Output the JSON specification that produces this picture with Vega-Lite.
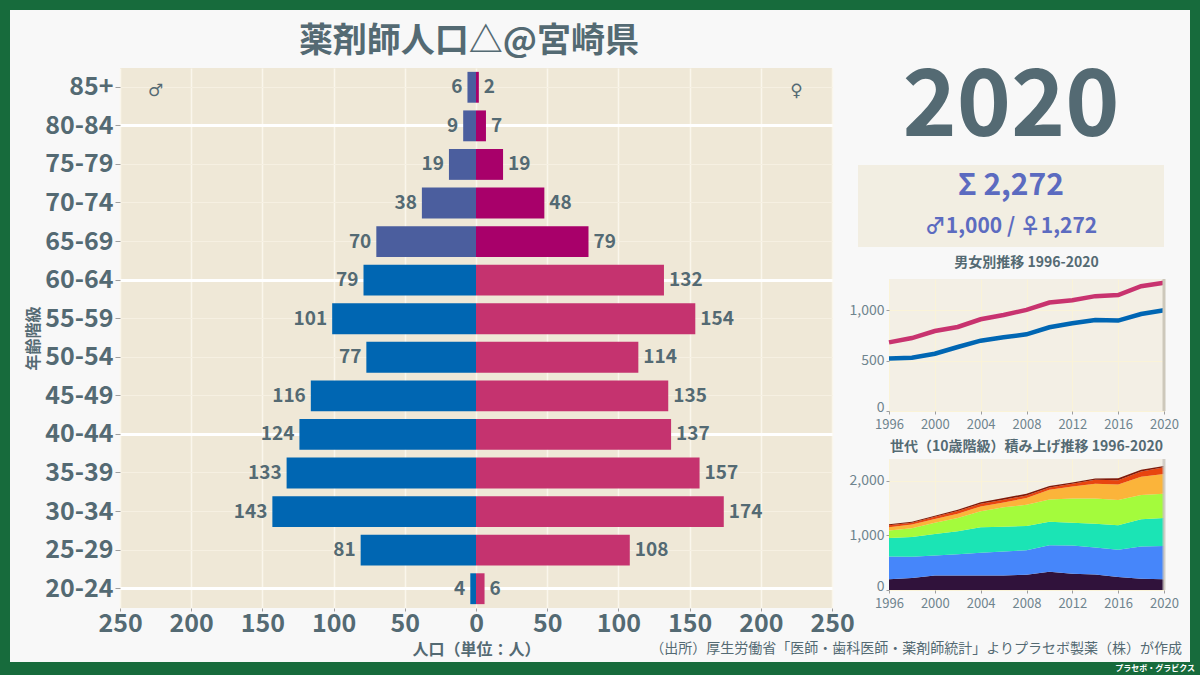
{
  "$schema": "https://vega.github.io/schema/vega-lite/v6.json",
  "padding": 0,
  "background": "#f8f8f8",
  "autosize": {"type": "pad"},
  "bounds": "flush",
  "spacing": 0,
  "resolve": {"scale": {"color": "independent"}},
  "config": {
    "font": "Noto Sans CJK JP",
    "view": {"stroke": null},
    "axis": {"labelFont": "Noto Sans CJK JP", "titleFont": "Noto Sans CJK JP", "labelFlush": false, "labelOverlap": false},
    "title": {"font": "Noto Sans CJK JP"},
    "text": {"font": "Noto Sans CJK JP"}
  },
  "datasets": {
    "empty": [],
    "pyramid": [
      {"age": "85+", "m": 6, "f": 2},
      {"age": "80-84", "m": 9, "f": 7},
      {"age": "75-79", "m": 19, "f": 19},
      {"age": "70-74", "m": 38, "f": 48},
      {"age": "65-69", "m": 70, "f": 79},
      {"age": "60-64", "m": 79, "f": 132},
      {"age": "55-59", "m": 101, "f": 154},
      {"age": "50-54", "m": 77, "f": 114},
      {"age": "45-49", "m": 116, "f": 135},
      {"age": "40-44", "m": 124, "f": 137},
      {"age": "35-39", "m": 133, "f": 157},
      {"age": "30-34", "m": 143, "f": 174},
      {"age": "25-29", "m": 81, "f": 108},
      {"age": "20-24", "m": 4, "f": 6}
    ],
    "trend": [
      {"year": 1996, "sex": "男", "n": 522}, {"year": 1996, "sex": "女", "n": 681},
      {"year": 1998, "sex": "男", "n": 528}, {"year": 1998, "sex": "女", "n": 724},
      {"year": 2000, "sex": "男", "n": 568}, {"year": 2000, "sex": "女", "n": 794},
      {"year": 2002, "sex": "男", "n": 635}, {"year": 2002, "sex": "女", "n": 834},
      {"year": 2004, "sex": "男", "n": 698}, {"year": 2004, "sex": "女", "n": 910},
      {"year": 2006, "sex": "男", "n": 731}, {"year": 2006, "sex": "女", "n": 953},
      {"year": 2008, "sex": "男", "n": 761}, {"year": 2008, "sex": "女", "n": 1003},
      {"year": 2010, "sex": "男", "n": 831}, {"year": 2010, "sex": "女", "n": 1076},
      {"year": 2012, "sex": "男", "n": 870}, {"year": 2012, "sex": "女", "n": 1100},
      {"year": 2014, "sex": "男", "n": 904}, {"year": 2014, "sex": "女", "n": 1140},
      {"year": 2016, "sex": "男", "n": 897}, {"year": 2016, "sex": "女", "n": 1150},
      {"year": 2018, "sex": "男", "n": 963}, {"year": 2018, "sex": "女", "n": 1239},
      {"year": 2020, "sex": "男", "n": 1000}, {"year": 2020, "sex": "女", "n": 1272}
    ],
    "gens": [
      {"year": 1996, "gen": "20代", "n": 195}, {"year": 1996, "gen": "30代", "n": 419}, {"year": 1996, "gen": "40代", "n": 340}, {"year": 1996, "gen": "50代", "n": 134}, {"year": 1996, "gen": "60代", "n": 61}, {"year": 1996, "gen": "70代", "n": 36}, {"year": 1996, "gen": "80代以上", "n": 18},
      {"year": 1998, "gen": "20代", "n": 219}, {"year": 1998, "gen": "30代", "n": 389}, {"year": 1998, "gen": "40代", "n": 365}, {"year": 1998, "gen": "50代", "n": 158}, {"year": 1998, "gen": "60代", "n": 67}, {"year": 1998, "gen": "70代", "n": 36}, {"year": 1998, "gen": "80代以上", "n": 18},
      {"year": 2000, "gen": "20代", "n": 267}, {"year": 2000, "gen": "30代", "n": 365}, {"year": 2000, "gen": "40代", "n": 395}, {"year": 2000, "gen": "50代", "n": 207}, {"year": 2000, "gen": "60代", "n": 67}, {"year": 2000, "gen": "70代", "n": 42}, {"year": 2000, "gen": "80代以上", "n": 19},
      {"year": 2002, "gen": "20代", "n": 267}, {"year": 2002, "gen": "30代", "n": 390}, {"year": 2002, "gen": "40代", "n": 419}, {"year": 2002, "gen": "50代", "n": 243}, {"year": 2002, "gen": "60代", "n": 80}, {"year": 2002, "gen": "70代", "n": 48}, {"year": 2002, "gen": "80代以上", "n": 22},
      {"year": 2004, "gen": "20代", "n": 267}, {"year": 2004, "gen": "30代", "n": 414}, {"year": 2004, "gen": "40代", "n": 468}, {"year": 2004, "gen": "50代", "n": 292}, {"year": 2004, "gen": "60代", "n": 91}, {"year": 2004, "gen": "70代", "n": 48}, {"year": 2004, "gen": "80代以上", "n": 28},
      {"year": 2006, "gen": "20代", "n": 267}, {"year": 2006, "gen": "30代", "n": 438}, {"year": 2006, "gen": "40代", "n": 456}, {"year": 2006, "gen": "50代", "n": 353}, {"year": 2006, "gen": "60代", "n": 91}, {"year": 2006, "gen": "70代", "n": 48}, {"year": 2006, "gen": "80代以上", "n": 31},
      {"year": 2008, "gen": "20代", "n": 280}, {"year": 2008, "gen": "30代", "n": 449}, {"year": 2008, "gen": "40代", "n": 444}, {"year": 2008, "gen": "50代", "n": 389}, {"year": 2008, "gen": "60代", "n": 122}, {"year": 2008, "gen": "70代", "n": 49}, {"year": 2008, "gen": "80代以上", "n": 31},
      {"year": 2010, "gen": "20代", "n": 334}, {"year": 2010, "gen": "30代", "n": 487}, {"year": 2010, "gen": "40代", "n": 431}, {"year": 2010, "gen": "50代", "n": 408}, {"year": 2010, "gen": "60代", "n": 176}, {"year": 2010, "gen": "70代", "n": 42}, {"year": 2010, "gen": "80代以上", "n": 29},
      {"year": 2012, "gen": "20代", "n": 298}, {"year": 2012, "gen": "30代", "n": 517}, {"year": 2012, "gen": "40代", "n": 419}, {"year": 2012, "gen": "50代", "n": 444}, {"year": 2012, "gen": "60代", "n": 219}, {"year": 2012, "gen": "70代", "n": 48}, {"year": 2012, "gen": "80代以上", "n": 25},
      {"year": 2014, "gen": "20代", "n": 286}, {"year": 2014, "gen": "30代", "n": 492}, {"year": 2014, "gen": "40代", "n": 438}, {"year": 2014, "gen": "50代", "n": 462}, {"year": 2014, "gen": "60代", "n": 267}, {"year": 2014, "gen": "70代", "n": 73}, {"year": 2014, "gen": "80代以上", "n": 26},
      {"year": 2016, "gen": "20代", "n": 237}, {"year": 2016, "gen": "30代", "n": 499}, {"year": 2016, "gen": "40代", "n": 449}, {"year": 2016, "gen": "50代", "n": 462}, {"year": 2016, "gen": "60代", "n": 286}, {"year": 2016, "gen": "70代", "n": 79}, {"year": 2016, "gen": "80代以上", "n": 35},
      {"year": 2018, "gen": "20代", "n": 207}, {"year": 2018, "gen": "30代", "n": 589}, {"year": 2018, "gen": "40代", "n": 499}, {"year": 2018, "gen": "50代", "n": 444}, {"year": 2018, "gen": "60代", "n": 334}, {"year": 2018, "gen": "70代", "n": 97}, {"year": 2018, "gen": "80代以上", "n": 32},
      {"year": 2020, "gen": "20代", "n": 199}, {"year": 2020, "gen": "30代", "n": 607}, {"year": 2020, "gen": "40代", "n": 512}, {"year": 2020, "gen": "50代", "n": 446}, {"year": 2020, "gen": "60代", "n": 360}, {"year": 2020, "gen": "70代", "n": 124}, {"year": 2020, "gen": "80代以上", "n": 24}
    ]
  },
  "vconcat": [
    {"width": 1200, "height": 10, "view": {"fill": "#176b3c"}, "data": {"name": "empty"}, "mark": "text", "encoding": {}},
    {
      "bounds": "flush",
      "spacing": 0,
      "resolve": {"scale": {"color": "independent"}},
      "hconcat": [
        {"width": 10, "height": 652, "view": {"fill": "#176b3c"}, "data": {"name": "empty"}, "mark": "text", "encoding": {}},
        {"width": 110, "height": 652, "data": {"name": "empty"}, "mark": "text", "encoding": {}},
        {
          "bounds": "flush",
          "spacing": 0,
          "vconcat": [
            {"width": 712, "height": 58, "data": {"name": "empty"}, "mark": "text", "encoding": {}},
            {
              "width": 712,
              "height": 540,
              "view": {"fill": "#efe8d7"},
              "title": {"text": "薬剤師人口△@宮崎県", "fontSize": 34, "fontWeight": "bold", "color": "#546a73", "anchor": "middle", "offset": 9, "dx": -7},
              "data": {"name": "pyramid"},
              "resolve": {"scale": {"x": "independent"}},
              "layer": [
                {
                  "layer": [
                    {
                      "mark": {"type": "bar"},
                      "encoding": {
                        "y": {"field": "age", "type": "ordinal", "sort": ["85+", "80-84", "75-79", "70-74", "65-69", "60-64", "55-59", "50-54", "45-49", "40-44", "35-39", "30-34", "25-29", "20-24"], "scale": {"paddingInner": 0.2, "paddingOuter": 0.1},
                          "axis": {"title": "年齢階級", "titleFontSize": 16, "titleFontWeight": "bold", "titleColor": "#546a73", "titlePadding": 3, "labelFontSize": 25, "labelFontWeight": "bold", "labelColor": "#546a73", "labelPadding": 2, "tickSize": 5, "tickColor": "#9e9e9e", "domain": false, "grid": true,
                            "gridColor": {"condition": {"test": "indexof(['80-84','60-64','40-44','20-24'], datum.value) >= 0", "value": "#ffffff"}, "value": "#f6f0e2"},
                            "gridWidth": {"condition": {"test": "indexof(['80-84','60-64','40-44','20-24'], datum.value) >= 0", "value": 3}, "value": 1}}},
                        "x": {"field": "m", "type": "quantitative", "scale": {"domain": [-250, 250], "reverse": true, "nice": false}, "axis": null},
                        "x2": {"datum": 0},
                        "color": {"condition": {"test": "indexof(['65-69','70-74','75-79','80-84','85+'], datum.age) >= 0", "value": "#4b5e9e"}, "value": "#0066b2"}
                      }
                    },
                    {
                      "mark": {"type": "text", "align": "right", "dx": -5, "fontSize": 19, "fontWeight": "bold", "color": "#546a73"},
                      "encoding": {
                        "y": {"field": "age", "type": "ordinal", "sort": ["85+", "80-84", "75-79", "70-74", "65-69", "60-64", "55-59", "50-54", "45-49", "40-44", "35-39", "30-34", "25-29", "20-24"]},
                        "x": {"field": "m", "type": "quantitative"},
                        "text": {"field": "m", "type": "quantitative"}
                      }
                    },
                    {
                      "data": {"values": [{"s": "♂"}]},
                      "mark": {"type": "text", "fontSize": 17, "font": "DejaVu Sans", "color": "#546a73", "dy": 4},
                      "encoding": {
                        "x": {"datum": 225, "type": "quantitative"},
                        "y": {"datum": "85+", "type": "ordinal"},
                        "text": {"field": "s"}
                      }
                    }
                  ]
                },
                {
                  "layer": [
                    {
                      "mark": {"type": "bar"},
                      "encoding": {
                        "y": {"field": "age", "type": "ordinal", "sort": ["85+", "80-84", "75-79", "70-74", "65-69", "60-64", "55-59", "50-54", "45-49", "40-44", "35-39", "30-34", "25-29", "20-24"]},
                        "x": {"field": "f", "type": "quantitative", "scale": {"domain": [-250, 250], "nice": false},
                          "axis": {"orient": "bottom", "values": [-250, -200, -150, -100, -50, 0, 50, 100, 150, 200, 250], "labelExpr": "abs(datum.value)", "title": "人口（単位：人）", "titleFontSize": 16, "titleFontWeight": "bold", "titleColor": "#546a73", "titlePadding": 5, "labelFontSize": 25, "labelFontWeight": "bold", "labelColor": "#546a73", "labelPadding": 0, "tickSize": 3, "tickColor": "#9e9e9e", "domain": false, "grid": true, "gridColor": "#faf6ec", "gridWidth": 1.5}},
                        "x2": {"datum": 0},
                        "color": {"condition": {"test": "indexof(['65-69','70-74','75-79','80-84','85+'], datum.age) >= 0", "value": "#a8006a"}, "value": "#c5336f"}
                      }
                    },
                    {
                      "mark": {"type": "text", "align": "left", "dx": 5, "fontSize": 19, "fontWeight": "bold", "color": "#546a73"},
                      "encoding": {
                        "y": {"field": "age", "type": "ordinal", "sort": ["85+", "80-84", "75-79", "70-74", "65-69", "60-64", "55-59", "50-54", "45-49", "40-44", "35-39", "30-34", "25-29", "20-24"]},
                        "x": {"field": "f", "type": "quantitative"},
                        "text": {"field": "f", "type": "quantitative"}
                      }
                    },
                    {
                      "data": {"values": [{"s": "♀"}]},
                      "mark": {"type": "text", "fontSize": 17, "font": "DejaVu Sans", "color": "#546a73", "dy": 4},
                      "encoding": {
                        "x": {"datum": 225, "type": "quantitative"},
                        "y": {"datum": "85+", "type": "ordinal"},
                        "text": {"field": "s"}
                      }
                    }
                  ]
                }
              ]
            }
          ]
        },
        {"width": 738, "height": 652, "data": {"name": "empty"}, "mark": "text", "encoding": {}},
        {
          "bounds": "flush",
          "spacing": 0,
          "resolve": {"scale": {"color": "independent"}},
          "vconcat": [
            {
              "width": 306, "height": 155,
              "data": {"values": [{"year": "2020"}]},
              "mark": {"type": "text", "fontSize": 92, "fontWeight": "bold", "color": "#546a73", "baseline": "middle", "dy": 20},
              "encoding": {"text": {"field": "year"}}
            },
            {
              "width": 306, "height": 82,
              "view": {"fill": "#f2eee2"},
              "data": {"values": [{"row": "sum", "label": "Σ 2,272"}, {"row": "split", "label": "♂1,000 / ♀1,272"}]},
              "mark": {"type": "text", "fontWeight": "bold", "color": "#5c6bc0", "baseline": "middle"},
              "encoding": {
                "y": {"field": "row", "type": "nominal", "sort": ["sum", "split"], "axis": null},
                "text": {"field": "label"},
                "size": {"condition": {"test": "datum.row === 'sum'", "value": 30}, "value": 21}
              }
            },
            {"width": 306, "height": 32, "data": {"name": "empty"}, "mark": "text", "encoding": {}},
            {
              "bounds": "flush",
              "spacing": 0,
              "hconcat": [
                {"width": 31, "height": 132, "data": {"name": "empty"}, "mark": "text", "encoding": {}},
                {
                  "width": 275, "height": 132,
                  "view": {"fill": "#f3efe5"},
                  "title": {"text": "男女別推移 1996-2020", "fontSize": 14, "fontWeight": "bold", "color": "#546a73", "anchor": "middle", "offset": 4},
                  "data": {"name": "trend"},
                  "layer": [
                    {
                      "mark": {"type": "line", "strokeWidth": 4.5},
                      "encoding": {
                        "x": {"field": "year", "type": "quantitative", "scale": {"domain": [1996, 2020], "nice": false, "zero": false},
                          "axis": {"values": [1996, 2000, 2004, 2008, 2012, 2016, 2020], "format": "d", "title": null, "labelFontSize": 13, "labelColor": "#6f848e", "grid": true, "gridColor": "#faf3d8", "domain": false, "tickSize": 3, "tickColor": "#9e9e9e", "labelPadding": 4}},
                        "y": {"field": "n", "type": "quantitative", "scale": {"domain": [0, 1310], "nice": false},
                          "axis": {"values": [0, 500, 1000], "format": ",d", "title": null, "labelFontSize": 14, "labelColor": "#6f848e", "grid": true, "gridColor": "#faf3d8", "domain": false, "tickSize": 3, "tickColor": "#9e9e9e", "labelPadding": 2,
                            "labelBaseline": {"condition": {"test": "datum.value === 0", "value": "alphabetic"}, "value": "middle"}}},
                        "color": {"field": "sex", "type": "nominal", "scale": {"domain": ["男", "女"], "range": ["#0066b3", "#c8336f"]}, "legend": null}
                      }
                    },
                    {
                      "data": {"values": [{"year": 2020}]},
                      "mark": {"type": "rule", "color": "#cdc8bb", "strokeWidth": 3},
                      "encoding": {"x": {"field": "year", "type": "quantitative"}}
                    }
                  ]
                }
              ]
            },
            {"width": 306, "height": 180, "data": {"name": "empty"}, "mark": "text", "encoding": {}},
            {
              "bounds": "flush",
              "spacing": 0,
              "hconcat": [
                {"width": 31, "height": 131, "data": {"name": "empty"}, "mark": "text", "encoding": {}},
                {
                  "width": 275, "height": 131,
                  "view": {"fill": "#f3efe5"},
                  "title": {"text": "世代（10歳階級）積み上げ推移 1996-2020", "fontSize": 14, "fontWeight": "bold", "color": "#546a73", "anchor": "middle", "offset": 4},
                  "data": {"name": "gens"},
                  "layer": [
                    {
                      "mark": {"type": "area"},
                      "encoding": {
                        "x": {"field": "year", "type": "quantitative", "scale": {"domain": [1996, 2020], "nice": false, "zero": false},
                          "axis": {"values": [1996, 2000, 2004, 2008, 2012, 2016, 2020], "format": "d", "title": null, "labelFontSize": 13, "labelColor": "#6f848e", "grid": true, "gridColor": "#faf3d8", "domain": false, "tickSize": 3, "tickColor": "#9e9e9e", "labelPadding": 4}},
                        "y": {"field": "n", "type": "quantitative", "stack": "zero", "scale": {"domain": [0, 2400], "nice": false},
                          "axis": {"values": [0, 1000, 2000], "format": ",d", "title": null, "labelFontSize": 14, "labelColor": "#6f848e", "grid": true, "gridColor": "#faf3d8", "domain": false, "tickSize": 3, "tickColor": "#9e9e9e", "labelPadding": 2,
                            "labelBaseline": {"condition": {"test": "datum.value === 0", "value": "alphabetic"}, "value": "middle"}}},
                        "color": {"field": "gen", "type": "nominal", "scale": {"domain": ["20代", "30代", "40代", "50代", "60代", "70代", "80代以上"], "range": ["#30123b", "#4686fa", "#1be4b5", "#a4fb3c", "#fbb43a", "#e8450f", "#7f1a0a"]}, "legend": null},
                        "order": {"field": "gen", "sort": "ascending"}
                      }
                    },
                    {
                      "data": {"values": [{"year": 2020}]},
                      "mark": {"type": "rule", "color": "#c9c6c0", "strokeWidth": 3, "opacity": 0.8},
                      "encoding": {"x": {"field": "year", "type": "quantitative"}}
                    }
                  ]
                }
              ]
            }
          ]
        },
        {"width": 332, "height": 652, "data": {"name": "empty"}, "mark": "text", "encoding": {}},
        {"width": 10, "height": 652, "view": {"fill": "#176b3c"}, "data": {"name": "empty"}, "mark": "text", "encoding": {}}
      ]
    },
    {"width": 1200, "height": 652, "data": {"name": "empty"}, "mark": "text", "encoding": {}},
    {
      "width": 1200, "height": 13,
      "view": {"fill": "#176b3c"},
      "title": {"text": "（出所）厚生労働省「医師・歯科医師・薬剤師統計」よりプラセボ製薬（株）が作成", "orient": "top", "anchor": "end", "fontSize": 14, "fontWeight": "normal", "color": "#546a73", "offset": 6, "dx": -18},
      "data": {"values": [{"t": "プラセボ・グラビクス"}]},
      "mark": {"type": "text", "align": "right", "dx": -5, "fontSize": 8, "fontWeight": "bold", "color": "#ffffff", "baseline": "middle"},
      "encoding": {
        "x": {"datum": 1, "type": "quantitative", "scale": {"domain": [0, 1]}, "axis": null},
        "text": {"field": "t"}
      }
    }
  ]
}
